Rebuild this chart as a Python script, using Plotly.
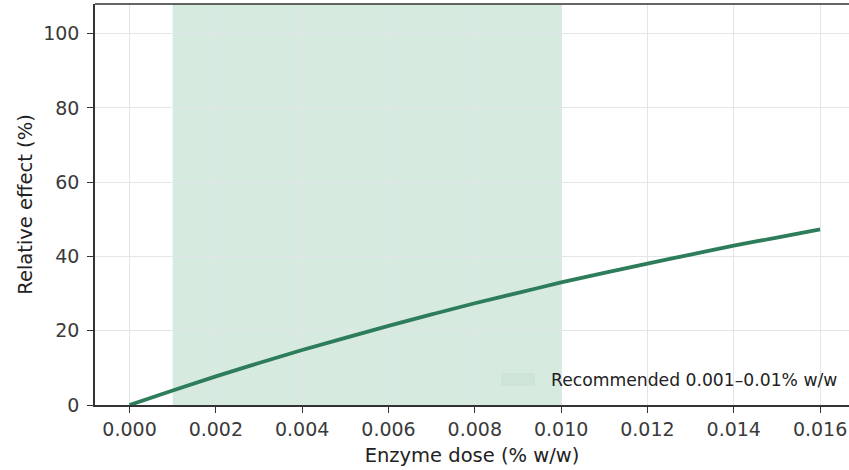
import plotly.graph_objects as go

dose = [0.000, 0.001, 0.002, 0.003, 0.004, 0.005, 0.006, 0.007, 0.008,
        0.009, 0.010, 0.011, 0.012, 0.013, 0.014, 0.015, 0.016]
effect = [0.0, 3.9, 7.7, 11.3, 14.8, 18.1, 21.3, 24.4, 27.4,
          30.2, 33.0, 35.6, 38.1, 40.5, 42.9, 45.1, 47.3]
band_low = 0.001
band_high = 0.010
band_label = "Recommended 0.001–0.01% w/w"
x_ticks = [0.000, 0.002, 0.004, 0.006, 0.008, 0.010, 0.012, 0.014, 0.016]
y_ticks = [0, 20, 40, 60, 80, 100]
y_max = 108

font = "DejaVu Sans"
axis_col = "#333333"
band_col = "#d7eae0"
patch_col = "#cde4d7"
grid_col = "#e2e5ea"

fig = go.Figure()
# recommended band, drawn beneath the grid through the x scale
fig.add_shape(type="rect", xref="x", yref="paper",
              x0=band_low, x1=band_high, y0=0, y1=1,
              fillcolor=band_col, line=dict(width=0), layer="below")
fig.add_trace(go.Scatter(
    x=dose, y=effect, mode="lines", line=dict(color="#2e7d5a", width=3.8),
    line_shape="spline", showlegend=False, name="effect",
))

fig.update_layout(
    width=849, height=470,
    margin=dict(l=95, r=0, t=4, b=65),
    paper_bgcolor="white", plot_bgcolor="white",
    font=dict(family=font, size=19, color="#3a3a3a"),
    showlegend=False,
)
fig.update_xaxes(
    range=[-0.0008, 0.01667], tickvals=x_ticks,
    ticktext=[f"{v:.3f}" for v in x_ticks],
    showgrid=True, gridcolor=grid_col, gridwidth=1,
    showline=True, linecolor=axis_col, linewidth=1.5,
    ticks="outside", ticklen=6, tickcolor=axis_col, tickwidth=1.2,
    mirror=False, zeroline=False,
    title=dict(text="Enzyme dose (% w/w)", font=dict(size=19.5, color="#222222"), standoff=10),
)
fig.update_yaxes(
    range=[0, y_max], tickvals=y_ticks,
    showgrid=True, gridcolor=grid_col, gridwidth=1,
    showline=True, linecolor=axis_col, linewidth=1.5,
    ticks="outside", ticklen=6, tickcolor=axis_col, tickwidth=1.2,
    ticklabelstandoff=4, zeroline=False,
    title=dict(text="Relative effect (%)", font=dict(size=19.5, color="#222222"), standoff=5),
)
fig.add_shape(type="line", xref="paper", yref="paper", x0=0, x1=1, y0=1, y1=1,
              line=dict(color=axis_col, width=1.5))
# legend (patch + label)
fig.add_shape(type="rect", xref="paper", yref="paper",
              x0=0.5385, x1=0.5836, y0=0.0474, y1=0.0798,
              fillcolor=patch_col, line=dict(width=0))
fig.add_annotation(xref="paper", yref="paper", x=0.6021, y=0.0623,
                   xanchor="left", yanchor="middle", showarrow=False,
                   text=band_label, font=dict(size=17.2, color="#222222"))

fig.write_html("out.html", config={"displayModeBar": False},
               post_script="document.body.style.margin='0';document.body.style.overflow='hidden';")
